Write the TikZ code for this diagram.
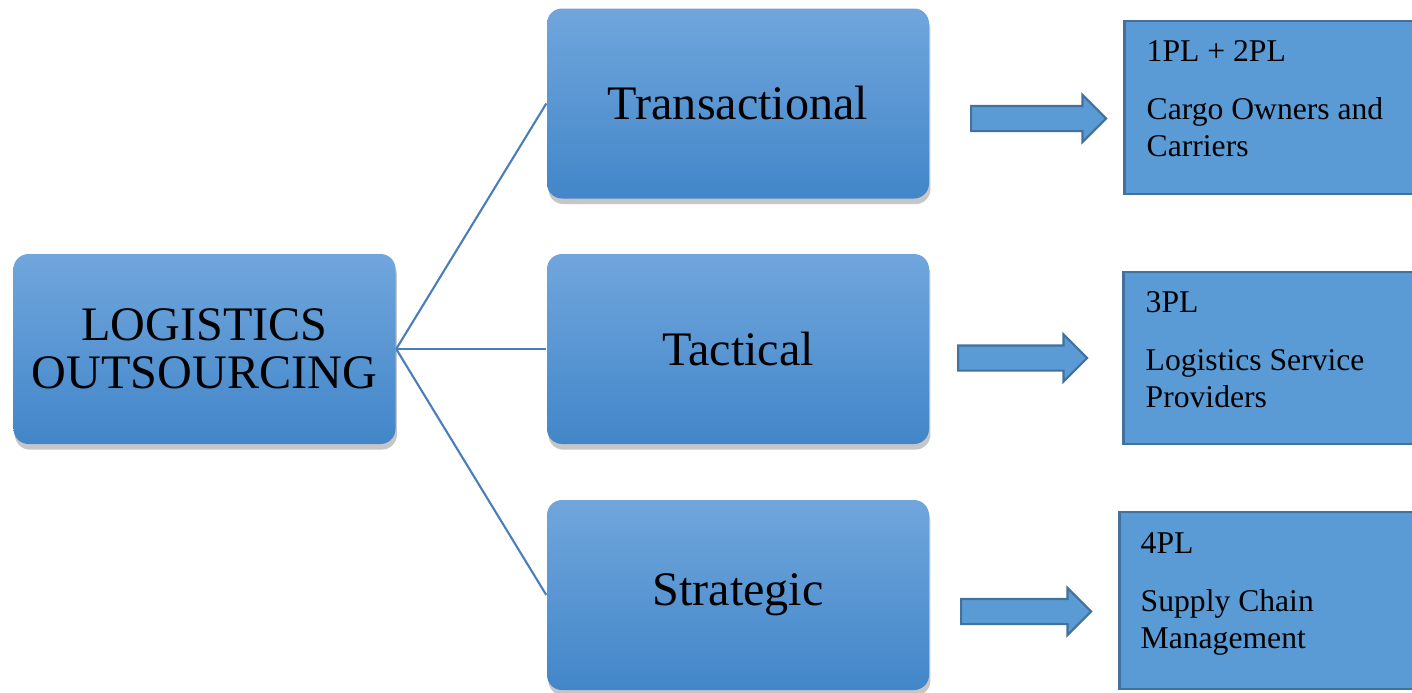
\documentclass[tikz,border=0pt]{standalone}
\usepackage{fontspec}
\setmainfont{Liberation Serif}
\usepackage{xcolor}
\usetikzlibrary{shapes.arrows, positioning, shadows, calc}

\definecolor{grTop}{RGB}{112,166,220}
\definecolor{grBot}{RGB}{66,134,201}
\definecolor{boxFill}{RGB}{91,155,213}
\definecolor{boxLine}{RGB}{65,113,156}
\definecolor{linkLine}{RGB}{74,126,187}

\tikzset{
    level/.style={rectangle, rounded corners=0.15cm, top color=grTop, bottom color=grBot,
        minimum width=3.82cm, minimum height=1.9cm, inner sep=0pt, align=center,
        font=\fontsize{13.7}{13.7}\selectfont,
        drop shadow={opacity=0.45, shadow xshift=0.4pt, shadow yshift=-1.6pt}},
    party/.style={rectangle, fill=boxFill, draw=boxLine, line width=0.8pt,
        minimum width=3.2cm, inner sep=0pt},
    partytext/.style={anchor=north west, inner sep=0pt, align=left,
        font=\fontsize{9}{10.5}\selectfont},
    bigarrow/.style={single arrow, fill=boxFill, draw=boxLine, line width=0.6pt,
        anchor=tail, inner sep=0pt, inner ysep=0.115cm, single arrow head extend=0.11cm},
    link/.style={draw=linkLine, line width=0.6pt}
}

\begin{document}
\begin{tikzpicture}
    \useasboundingbox (0,0) rectangle (14.12,6.92);

    % Main boxes
    \node[level] (logout) at (2.045,3.43) {LOGISTICS\\OUTSOURCING};
    \node[level] (trans) at (7.38,5.885) {Transactional};
    \node[level] (tact) at (7.38,3.43) {Tactical};
    \node[level] (strat) at (7.38,0.97) {Strategic};

    % Lines
    \draw[link] (logout.east) -- (trans.west);
    \draw[link] (logout.east) -- (tact.west);
    \draw[link] (logout.east) -- (strat.west);

    % Arrows
    \node[bigarrow, minimum height=1.35cm] (arTrans) at (9.70,5.735) {};
    \node[bigarrow, minimum height=1.29cm] (arTact) at (9.57,3.34) {};
    \node[bigarrow, minimum height=1.30cm] (arStrat) at (9.60,0.805) {};

    % Right boxes
    \node[party, minimum height=1.73cm, anchor=west] (pl12) at (11.23,5.845) {};
    \node[party, minimum height=1.72cm, anchor=west] (pl3) at (11.22,3.34) {};
    \node[party, minimum height=1.77cm, anchor=west] (pl4) at (11.18,0.915) {};

    \node[partytext] (pl12txt) at ($(pl12.north west)+(0.23,-0.2)$)
        {1PL + 2PL\\[6pt]Cargo Owners and\\Carriers};
    \node[partytext] (pl3txt) at ($(pl3.north west)+(0.23,-0.2)$)
        {3PL\\[6pt]Logistics Service\\Providers};
    \node[partytext] (pl4txt) at ($(pl4.north west)+(0.22,-0.21)$)
        {4PL\\[6pt]Supply Chain\\Management};
\end{tikzpicture}
\end{document}
